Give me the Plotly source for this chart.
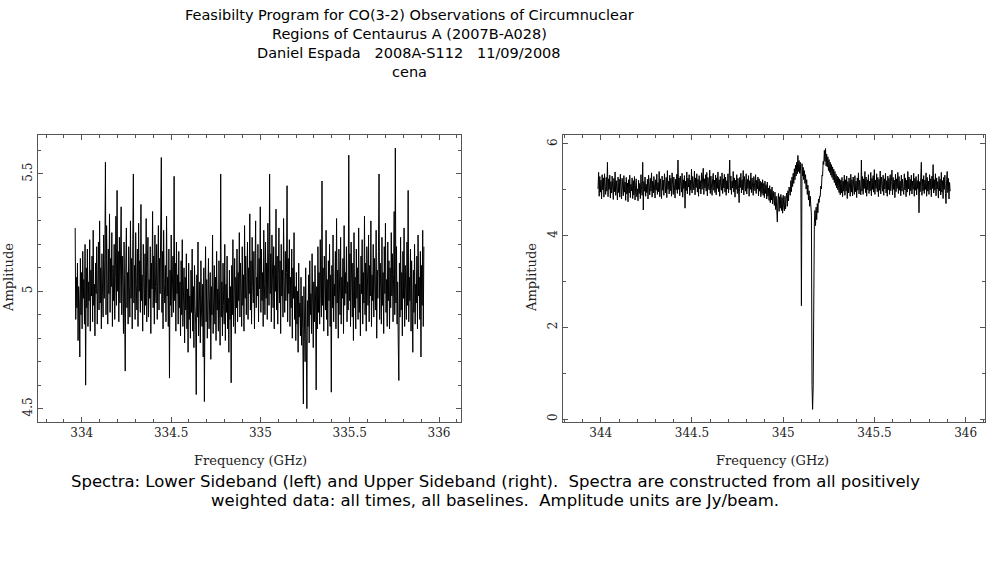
import plotly.graph_objects as go

# spectra (amplitude in Jy/beam), evenly spaced channels
lsb_start = 333.963
lsb_step = 0.003259
lsb_amp = [
    5.27, 4.88, 5.06, 4.93, 5.12, 4.79, 5.02, 4.95, 4.72, 5.14, 4.90, 5.08, 4.84, 5.17, 4.97, 5.05, 4.86, 5.20, 4.60, 5.10,
    4.93, 5.18, 4.85, 5.04, 4.96, 5.22, 4.83, 5.09, 4.98, 5.15, 4.87, 5.26, 4.94, 5.03, 4.81, 5.12, 4.99, 5.19, 4.86, 5.07,
    5.21, 4.92, 5.30, 4.95, 5.10, 4.84, 5.16, 5.01, 4.89, 5.24, 4.97, 5.13, 5.55, 4.90, 5.28, 5.05, 4.86, 5.18, 4.99, 5.33,
    4.91, 5.14, 5.02, 5.25, 4.85, 5.11, 4.96, 5.20, 4.88, 5.06, 5.32, 4.94, 5.43, 5.00, 5.17, 4.87, 5.23, 4.95, 5.09, 5.36,
    4.90, 5.15, 5.03, 4.82, 5.21, 4.98, 4.66, 5.12, 5.27, 4.93, 5.08, 4.86, 5.19, 5.02, 4.89, 5.30, 4.97, 5.14, 4.84, 5.22,
    5.50, 4.95, 5.11, 4.88, 5.25, 5.03, 4.92, 5.18, 4.85, 5.29, 5.00, 5.13, 4.91, 5.37, 4.96, 5.07, 4.83, 5.20, 5.04, 4.90,
    5.16, 4.94, 5.31, 4.87, 5.10, 5.23, 4.89, 5.05, 4.97, 5.19, 4.82, 5.12, 5.01, 5.34, 4.93, 5.15, 4.86, 5.24, 5.02, 4.95,
    5.20, 4.88, 5.09, 5.28, 4.92, 5.14, 4.99, 5.22, 5.57, 4.91, 5.17, 4.84, 5.26, 5.03, 4.95, 5.11, 4.87, 5.32, 4.98, 5.06,
    4.85, 5.18, 4.63, 5.09, 4.94, 5.24, 4.89, 5.02, 5.15, 4.91, 5.49, 4.96, 5.12, 4.83, 5.21, 4.99, 5.07, 4.86, 5.17, 4.93,
    5.04, 4.81, 5.13, 4.90, 5.22, 4.85, 4.97, 5.10, 4.78, 5.06, 4.92, 5.16, 4.84, 5.01, 4.74, 5.12, 4.88, 4.98, 4.80, 5.09,
    4.91, 5.18, 4.83, 5.02, 4.76, 5.11, 4.94, 4.86, 4.56, 5.07, 4.89, 5.21, 4.81, 4.97, 5.04, 4.78, 5.13, 4.92, 4.85, 5.03,
    4.72, 5.10, 4.53, 4.96, 5.19, 4.87, 5.05, 4.80, 4.99, 5.14, 4.84, 4.93, 5.08, 4.71, 5.02, 4.90, 5.24, 4.82, 4.98, 5.11,
    4.86, 5.06, 4.79, 5.17, 4.92, 5.01, 4.83, 5.13, 4.95, 4.77, 5.50, 4.89, 5.04, 4.81, 5.12, 4.94, 4.86, 5.20, 4.79, 5.03,
    4.91, 5.15, 4.84, 4.97, 4.74, 5.09, 4.88, 5.02, 4.61, 5.11, 4.90, 5.22, 4.85, 4.99, 5.14, 4.82, 5.06, 4.93, 5.18, 4.87,
    5.08, 4.96, 5.25, 4.89, 5.12, 5.01, 4.85, 5.19, 4.94, 5.07, 4.83, 5.28, 4.97, 5.15, 4.90, 5.04, 5.21, 4.88, 5.10, 4.99,
    5.33, 4.92, 5.13, 4.86, 5.23, 5.02, 4.95, 5.17, 4.84, 5.09, 5.30, 4.93, 5.06, 4.98, 5.20, 4.87, 5.14, 5.01, 5.36, 4.91,
    5.18, 4.96, 5.08, 4.85, 5.26, 5.03, 4.90, 5.21, 4.97, 5.12, 4.88, 5.29, 5.04, 4.94, 5.50, 4.99, 5.16, 4.87, 5.24, 5.02,
    4.93, 5.19, 4.84, 5.11, 5.00, 5.35, 4.92, 5.15, 4.86, 5.07, 5.27, 4.95, 5.13, 4.82, 5.20, 4.98, 5.09, 4.89, 5.31, 5.03,
    4.91, 5.17, 4.96, 5.08, 5.45, 4.87, 5.14, 4.99, 5.22, 4.85, 5.06, 4.93, 5.18, 4.80, 5.10, 4.97, 5.25, 4.88, 5.02, 4.79,
    5.08, 4.86, 5.00, 4.74, 5.12, 4.89, 4.95, 4.81, 5.06, 4.77, 4.98, 4.84, 4.52, 5.02, 4.88, 4.70, 5.10, 4.83, 4.50, 4.96,
    4.85, 5.07, 4.78, 5.13, 4.90, 4.99, 4.82, 5.16, 4.93, 4.76, 5.04, 4.87, 5.11, 4.95, 4.58, 5.02, 4.84, 5.19, 4.91, 5.08,
    4.86, 5.22, 4.97, 4.89, 5.47, 4.94, 5.10, 4.83, 5.15, 5.01, 4.92, 5.26, 4.88, 5.05, 4.81, 5.13, 4.96, 5.20, 4.85, 5.07,
    4.57, 5.11, 4.93, 5.24, 4.87, 5.03, 4.98, 5.17, 4.84, 5.31, 4.95, 5.09, 4.80, 5.18, 5.02, 4.90, 5.23, 4.86, 5.06, 4.97,
    5.14, 4.82, 5.28, 4.94, 5.08, 4.99, 5.19, 4.87, 5.04, 4.92, 5.58, 4.96, 5.16, 4.85, 5.21, 5.01, 4.89, 5.12, 4.79, 5.25,
    4.93, 5.06, 4.84, 5.18, 4.97, 5.10, 4.88, 5.27, 4.91, 5.03, 4.81, 5.15, 4.99, 5.22, 4.86, 5.08, 4.95, 5.32, 4.90, 5.12,
    4.83, 5.19, 5.02, 4.94, 5.24, 4.87, 5.11, 4.98, 5.30, 4.85, 5.07, 4.96, 5.20, 4.89, 5.14, 5.03, 4.92, 5.26, 4.80, 5.09,
    4.97, 5.17, 5.50, 4.88, 5.12, 5.01, 4.86, 5.23, 4.94, 5.08, 4.82, 5.19, 4.99, 5.29, 4.91, 5.05, 4.85, 5.21, 4.96, 5.13,
    4.84, 5.10, 4.93, 5.25, 4.98, 5.16, 4.87, 5.07, 5.34, 4.90, 5.61, 4.95, 5.19, 4.86, 5.04, 4.78, 4.62, 5.12, 4.89, 5.23,
    4.92, 5.08, 4.81, 5.17, 4.97, 5.27, 4.85, 5.11, 5.00, 4.88, 5.21, 4.94, 5.43, 4.87, 5.06, 4.96, 5.18, 4.83, 5.13, 4.99,
    4.74, 5.09, 4.91, 5.20, 4.86, 5.03, 4.95, 5.15, 4.84, 5.24, 4.98, 5.06, 4.88, 5.17, 4.72, 5.11, 4.94, 5.26, 4.85, 5.19,
]

usb_start = 343.985
usb_step = 0.003222
usb_amp = [
    5.02, 5.38, 4.86, 5.29, 4.95, 5.21, 4.80, 5.33, 5.00, 5.26, 4.84, 5.35, 5.08, 4.90, 5.27, 4.97, 5.60, 4.85, 5.24, 5.01,
    5.32, 4.82, 5.18, 4.93, 5.30, 5.03, 4.79, 5.25, 4.96, 5.39, 4.88, 5.20, 5.06, 4.78, 5.28, 4.94, 5.23, 4.84, 5.34, 5.00,
    4.80, 5.25, 5.04, 4.87, 5.31, 4.95, 5.17, 4.77, 5.27, 4.91, 5.15, 4.74, 5.22, 4.93, 5.32, 4.83, 5.12, 4.98, 5.26, 4.81,
    5.20, 4.89, 5.29, 4.78, 5.10, 5.24, 4.85, 5.02, 4.76, 5.21, 4.92, 5.14, 4.81, 5.33, 5.01, 4.88, 5.60, 4.56, 5.18, 4.97,
    5.28, 4.86, 5.12, 4.94, 5.23, 4.80, 5.32, 5.02, 4.89, 5.25, 4.97, 5.37, 4.84, 5.19, 4.93, 5.29, 5.03, 4.82, 5.22, 4.99,
    5.34, 4.90, 5.16, 4.96, 5.40, 4.85, 5.24, 5.03, 4.81, 5.30, 4.99, 5.21, 4.88, 5.35, 5.05, 4.93, 5.27, 4.83, 5.42, 5.01,
    5.19, 4.91, 5.32, 4.98, 5.25, 4.86, 5.37, 5.04, 4.90, 5.28, 5.07, 4.82, 5.23, 5.00, 5.34, 4.92, 5.65, 5.01, 5.26, 4.87,
    5.30, 5.05, 4.95, 5.36, 4.84, 5.22, 5.03, 5.31, 4.60, 5.19, 4.98, 5.39, 4.91, 5.25, 5.06, 5.33, 4.88, 5.21, 4.99, 5.45,
    4.93, 5.29, 5.07, 5.00, 5.41, 4.89, 5.26, 5.05, 5.35, 4.95, 5.23, 4.86, 5.31, 5.02, 5.20, 4.91, 5.37, 5.01, 5.28, 5.47,
    4.90, 5.24, 5.04, 5.33, 4.97, 5.38, 4.87, 5.27, 5.08, 5.00, 5.43, 4.92, 5.30, 5.06, 4.88, 5.25, 5.36, 4.99, 5.21, 4.94,
    5.32, 4.89, 5.26, 5.03, 5.39, 4.96, 5.22, 4.86, 5.29, 5.07, 4.99, 5.37, 4.92, 5.24, 5.04, 5.34, 4.95, 5.28, 4.88, 5.20,
    5.02, 5.35, 4.93, 5.23, 5.65, 5.00, 5.30, 4.90, 5.19, 5.04, 5.40, 4.95, 5.26, 4.84, 5.21, 5.01, 5.33, 4.92, 5.25, 5.03,
    4.72, 5.27, 5.05, 5.36, 4.93, 5.22, 5.00, 5.42, 4.89, 5.29, 5.08, 4.97, 5.35, 4.91, 5.23, 5.03, 5.31, 4.86, 5.20, 5.01,
    5.37, 4.94, 5.26, 5.04, 4.88, 5.29, 5.06, 4.98, 5.33, 4.92, 5.21, 5.02, 5.28, 4.87, 5.24, 4.97, 5.19, 4.85, 5.16, 4.92,
    5.22, 4.88, 5.14, 4.83, 5.19, 4.92, 5.11, 4.80, 5.17, 4.86, 5.04, 4.77, 5.09, 4.72, 5.01, 4.78, 5.06, 4.69, 4.97, 4.74,
    4.66, 4.95, 4.57, 4.86, 4.48, 4.30, 4.79, 4.92, 4.53, 4.85, 4.60, 4.90, 4.55, 4.83, 4.49, 4.88, 4.62, 4.54, 4.86, 4.58,
    4.82, 4.93, 4.64, 4.98, 4.76, 5.06, 4.97, 4.88, 5.20, 4.96, 5.28, 5.07, 5.36, 5.14, 5.46, 5.22, 5.54, 5.30, 5.60, 5.35,
    5.75, 5.40, 5.64, 5.36, 5.60, 5.33, 2.47, 5.57, 5.30, 5.49, 5.22, 5.42, 5.14, 5.33, 5.02, 5.22, 4.90, 5.10, 4.78, 4.98,
    4.64, 4.86, 4.52, 4.45, 0.75, 0.21, 0.70, 3.45, 4.28, 4.55, 4.22, 4.62, 4.35, 4.70, 4.50, 4.80, 4.72, 4.86, 4.85, 5.08,
    5.02, 5.32, 5.30, 5.62, 5.55, 5.86, 5.62, 5.90, 5.52, 5.78, 5.50, 5.72, 5.42, 5.66, 5.38, 5.60, 5.32, 5.55, 5.27, 5.50,
    5.22, 5.45, 5.16, 5.40, 5.10, 5.34, 5.04, 5.30, 5.00, 5.27, 4.94, 5.24, 4.89, 5.21, 4.93, 5.27, 4.85, 5.19, 4.97, 5.32,
    4.88, 5.22, 4.97, 5.30, 4.81, 5.18, 4.93, 5.26, 5.00, 4.86, 5.34, 4.95, 5.22, 4.87, 5.28, 5.01, 4.90, 5.31, 4.96, 5.19,
    4.83, 5.26, 4.99, 5.37, 4.91, 5.21, 5.03, 4.89, 5.65, 4.97, 5.29, 4.90, 5.24, 5.03, 5.40, 4.94, 5.28, 4.86, 5.22, 5.00,
    5.33, 4.92, 5.19, 4.98, 5.38, 4.87, 5.25, 5.01, 5.31, 4.95, 5.44, 4.90, 5.21, 5.03, 5.35, 4.96, 5.27, 4.85, 5.23, 4.99,
    5.41, 4.91, 5.28, 5.04, 4.97, 5.32, 4.88, 5.24, 5.02, 5.36, 4.93, 5.20, 4.86, 5.30, 5.00, 5.25, 4.90, 5.33, 4.98, 5.18,
    5.43, 4.89, 5.27, 5.01, 5.21, 4.83, 5.34, 4.96, 5.24, 5.03, 5.38, 4.92, 5.29, 4.99, 5.19, 4.87, 5.32, 4.97, 5.23, 5.02,
    4.90, 5.35, 5.00, 5.26, 4.85, 5.21, 4.95, 5.40, 5.02, 5.28, 4.88, 5.23, 4.98, 5.32, 4.91, 5.19, 5.01, 5.36, 4.86, 5.25,
    4.99, 5.29, 4.89, 5.20, 5.02, 5.34, 4.50, 5.18, 4.96, 5.26, 5.60, 4.88, 5.23, 4.98, 5.31, 4.92, 5.21, 5.01, 5.37, 4.86,
    5.27, 4.97, 5.19, 4.90, 5.33, 5.00, 5.24, 4.85, 5.30, 5.03, 5.55, 4.93, 5.22, 4.99, 5.35, 4.87, 5.26, 5.02, 5.18, 4.82,
    5.29, 4.98, 5.23, 4.89, 5.38, 4.95, 5.20, 4.81, 5.27, 5.01, 5.32, 4.92, 4.70, 5.22, 5.40, 4.94, 5.25, 4.80, 5.16, 4.97,
]

title_lines = [
    "Feasibilty Program for CO(3-2) Observations of Circumnuclear",
    "Regions of Centaurus A (2007B-A028)",
    "Daniel Espada   2008A-S112   11/09/2008",
    "cena",
]
caption_lines = [
    "Spectra: Lower Sideband (left) and Upper Sideband (right).  Spectra are constructed from all positively",
    "weighted data: all times, all baselines.  Amplitude units are Jy/beam.",
]

W, H = 987, 567
axis_font = dict(family="DejaVu Serif", size=12, color="#222222")
label_font = dict(family="DejaVu Serif", size=13, color="#222222")
text_font = dict(family="DejaVu Sans", size=14.5, color="black")

fig = go.Figure()

fig.add_trace(go.Scatter(
    x0=lsb_start, dx=lsb_step, y=lsb_amp,
    mode='lines', line=dict(color='black', width=1),
    xaxis='x', yaxis='y', showlegend=False,
))
fig.add_trace(go.Scatter(
    x0=usb_start, dx=usb_step, y=usb_amp,
    mode='lines', line=dict(color='black', width=1),
    xaxis='x2', yaxis='y2', showlegend=False,
))

box = dict(
    showline=True, linecolor='#555555', linewidth=1, mirror='allticks',
    ticks='inside', ticklen=5, tickcolor='#555555', showgrid=False,
    zeroline=False, tickfont=axis_font,
)

ydom = [1 - 422 / H, 1 - 135 / H]

fig.update_layout(
    width=W, height=H,
    margin=dict(l=0, r=0, t=0, b=0),
    paper_bgcolor='white', plot_bgcolor='white',
    xaxis=dict(box, domain=[38 / W, 461 / W], range=[333.755, 336.123],
               tickvals=[334, 334.5, 335, 335.5, 336],
               minor=dict(dtick=0.1, ticks='inside', ticklen=3, tickcolor='#555555'),
               anchor='y'),
    yaxis=dict(box, domain=ydom, range=[4.443, 5.666],
               tickvals=[4.5, 5, 5.5], ticktext=['4.5', '5', '5.5'], tickangle=-90,
               minor=dict(dtick=0.1, ticks='inside', ticklen=3, tickcolor='#555555'),
               anchor='x'),
    xaxis2=dict(box, domain=[563 / W, 985 / W], range=[343.793, 346.106],
                tickvals=[344, 344.5, 345, 345.5, 346],
                minor=dict(dtick=0.1, ticks='inside', ticklen=3, tickcolor='#555555'),
                anchor='y2'),
    yaxis2=dict(box, domain=ydom, range=[-0.065, 6.196],
                tickvals=[0, 2, 4, 6], tickangle=-90,
                minor=dict(dtick=1, ticks='inside', ticklen=3, tickcolor='#555555'),
                anchor='x2'),
)

# title block and caption
for i, t in enumerate(title_lines):
    fig.add_annotation(text=t, xref='paper', yref='paper', x=409 / W, y=1 - (15 + 19 * i) / H,
                       showarrow=False, font=text_font, xanchor='center', yanchor='middle')
for i, t in enumerate(caption_lines):
    fig.add_annotation(text=t, xref='paper', yref='paper', x=495 / W, y=1 - (481 + 19 * i) / H,
                       showarrow=False, font=dict(text_font, size=16.5), xanchor='center', yanchor='middle')

# axis titles
for xc in [250, 772]:
    fig.add_annotation(text="Frequency (GHz)", xref='paper', yref='paper', x=xc / W, y=1 - 460 / H,
                       showarrow=False, font=label_font, xanchor='center', yanchor='middle')
for xc in [8, 531]:
    fig.add_annotation(text="Amplitude", xref='paper', yref='paper', x=xc / W, y=1 - 278 / H,
                       showarrow=False, font=label_font, textangle=-90, xanchor='center', yanchor='middle')

# page has a default body margin; drop it so the figure sits at 0,0
fig.write_html("out.html", config={'displayModeBar': False},
               post_script="document.body.style.margin='0';")
